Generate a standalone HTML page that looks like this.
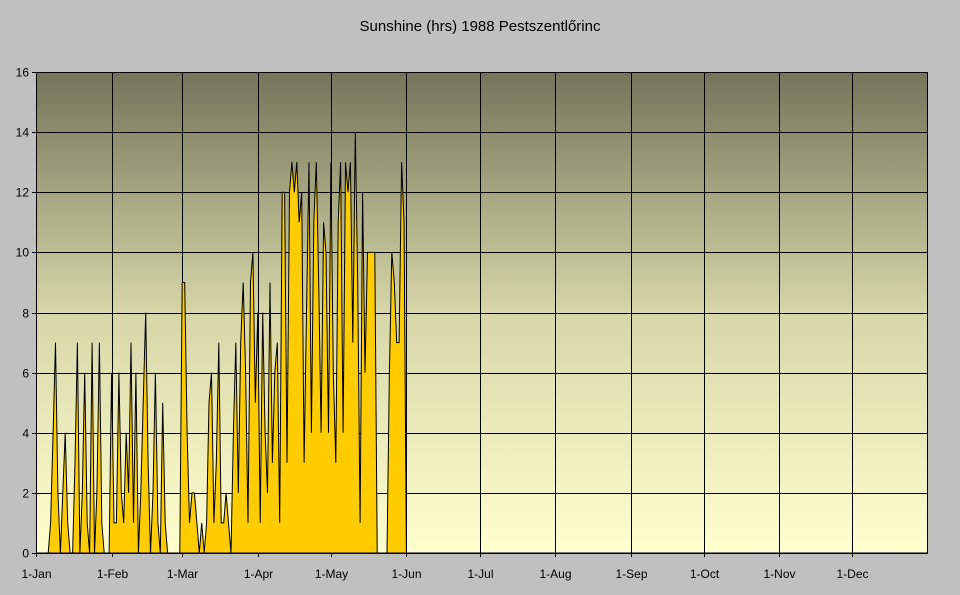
<!DOCTYPE html>
<html><head><meta charset="utf-8"><style>
body{margin:0;background:#c0c0c0;}
svg{display:block;font-family:"Liberation Sans",Arial,sans-serif;}
</style></head><body>
<svg width="960" height="595" xmlns="http://www.w3.org/2000/svg">
<defs><linearGradient id="g" x1="0" y1="0" x2="0" y2="1">
<stop offset="0" stop-color="#74745a"/><stop offset="0.5" stop-color="#d6d6a8"/><stop offset="1" stop-color="#ffffd0"/></linearGradient></defs>
<rect width="960" height="595" fill="#c0c0c0"/>
<text x="480" y="31" font-size="15" text-anchor="middle" fill="#000">Sunshine (hrs) 1988 Pestszentlőrinc</text>
<rect x="36" y="72" width="892" height="481" fill="url(#g)"/>
<g id="grid" stroke="#000" stroke-width="1"></g>
<g id="data"></g>
<rect x="36.5" y="72.5" width="891" height="480.5" fill="none" stroke="#000"/>
<g id="lab" font-size="12" fill="#000"></g>
</svg>
<script>
const ns="http://www.w3.org/2000/svg";
function el(t,a,p,txt){const e=document.createElementNS(ns,t);for(const k in a)e.setAttribute(k,a[k]);if(txt!==undefined)e.textContent=txt;document.getElementById(p).appendChild(e);}
const X=d=>36+d*892/366, Y=v=>553-v*30.06;
for(let v=0;v<=16;v+=2){const y=Math.round(Y(v))+0.5;el('line',{x1:32,x2:928,y1:y,y2:y},'grid');el('text',{x:29,y:y+4,'text-anchor':'end'},'lab',String(v));}
const m=[0,31,60,91,121,152,182,213,244,274,305,335],n=['1-Jan','1-Feb','1-Mar','1-Apr','1-May','1-Jun','1-Jul','1-Aug','1-Sep','1-Oct','1-Nov','1-Dec'];
m.forEach((d,i)=>{const x=Math.round(X(d))+0.5;el('line',{x1:x,x2:x,y1:72,y2:557},'grid');el('text',{x:x,y:578,'text-anchor':'middle'},'lab',n[i]);});
const v=[0,0,0,0,0,0,1,4,7,2,0,2,4,1,0,0,3,7,0,2,6,1,0,7,0,2,7,1,0,0,0,
6,1,1,6,2,1,4,2,7,1,6,0,2,5,8,3,0,2,6,1,0,5,1,0,0,0,0,0,0,
9,9,4,1,2,2,1,0,1,0,1,5,6,1,3,7,1,1,2,1,0,4,7,2,7,9,6,1,9,10,5,
8,1,8,4,2,9,3,6,7,1,12,12,3,12,13,12,13,11,12,3,8,13,4,11,13,9,4,11,10,4,
13,6,3,11,13,4,13,12,13,7,14,9,1,12,6,10,10,10,10,0,0,0,0,0,6,10,9,7,7,13,11,0];
let pts=v.map((a,i)=>X(i).toFixed(1)+','+Y(a).toFixed(1));
el('polygon',{points:X(0)+','+553+' '+pts.join(' ')+' '+X(v.length-1)+','+553,fill:'#ffcc00',stroke:'none'},'data');
el('polyline',{points:pts.join(' '),fill:'none',stroke:'#000','stroke-width':1},'data');
</script>
</body></html>
